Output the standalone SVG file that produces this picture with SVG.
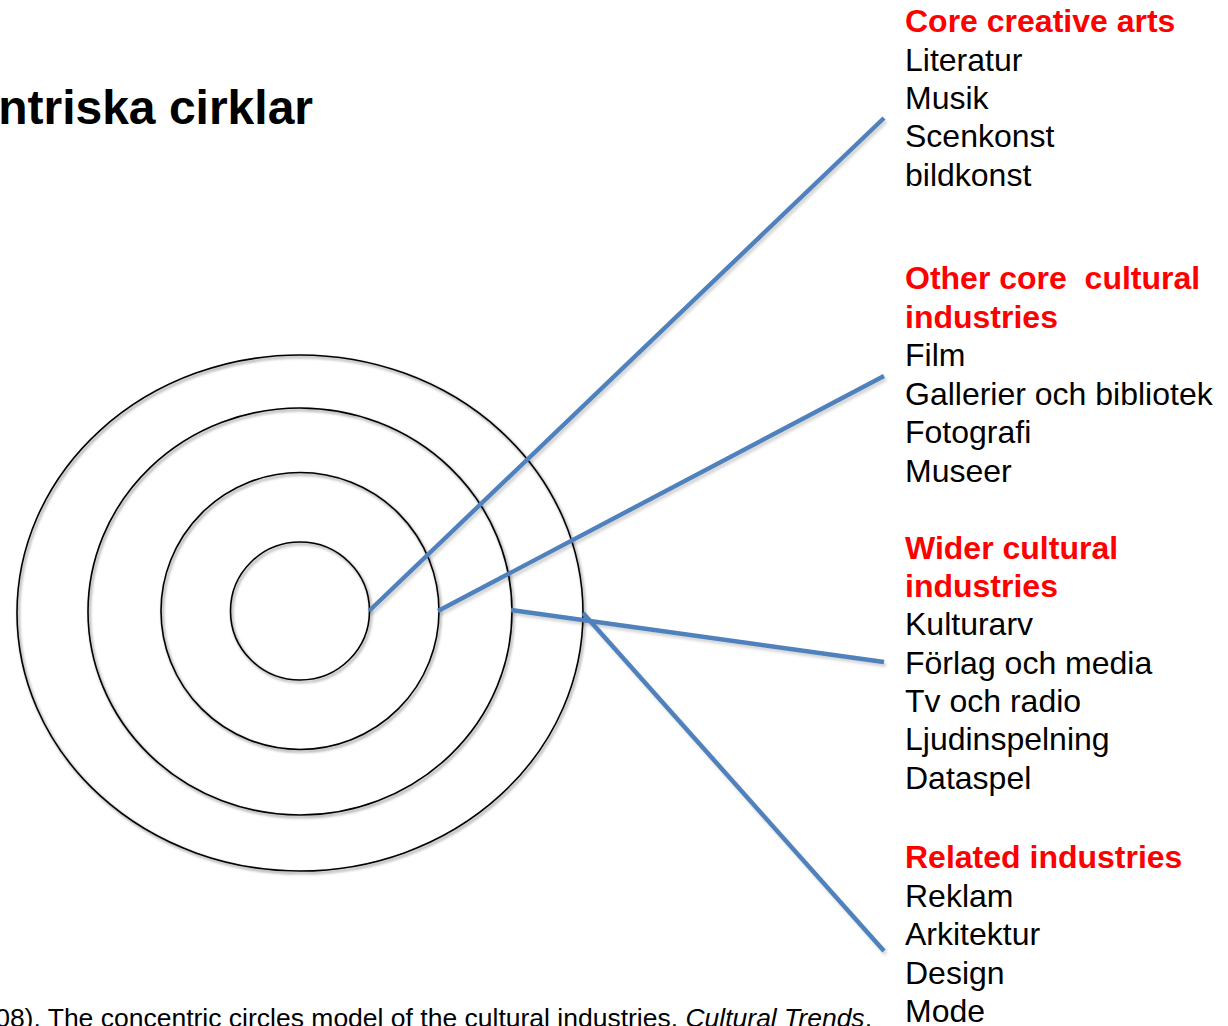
<svg xmlns="http://www.w3.org/2000/svg" width="1228" height="1026" viewBox="0 0 1228 1026">
<style>
  .ring { fill: none; stroke: #000; stroke-width: 1.6; }
  .conn { stroke: #4f81bd; stroke-width: 4.4; fill: none; stroke-linecap: butt; }
  .shadow { stroke: #000; stroke-opacity: 0.18; stroke-width: 4; fill: none; }
  .txt { font-family: "Liberation Sans", Arial, sans-serif; font-size: 32px; fill: #000; }
  .hd { font-family: "Liberation Sans", Arial, sans-serif; font-size: 32px; font-weight: bold; fill: #ff0000; white-space: pre; }
  .title { font-family: "Liberation Sans", Arial, sans-serif; font-size: 48px; font-weight: bold; fill: #000; }
  .cite { font-family: "Liberation Sans", Arial, sans-serif; font-size: 26.5px; fill: #000; }
</style>
<defs>
  <filter id="blur" x="-10%" y="-10%" width="120%" height="120%">
    <feGaussianBlur stdDeviation="1.5"/>
  </filter>
</defs>
<rect width="1228" height="1026" fill="#fff"/>

<g id="title">
  <text class="title" x="313" y="124" text-anchor="end">ntriska cirklar</text>
</g>

<g id="circles">
  <g filter="url(#blur)" opacity="0.5" transform="translate(1.5,2)">
    <ellipse class="ring" cx="300" cy="613" rx="283" ry="258"/>
    <ellipse class="ring" cx="300" cy="611.5" rx="212" ry="203.5"/>
    <ellipse class="ring" cx="300" cy="611" rx="139" ry="138.5"/>
    <ellipse class="ring" cx="300" cy="611" rx="69.5" ry="69"/>
  </g>
  <ellipse id="ring4" class="ring" cx="300" cy="613" rx="283" ry="258"/>
  <ellipse id="ring3" class="ring" cx="300" cy="611.5" rx="212" ry="203.5"/>
  <ellipse id="ring2" class="ring" cx="300" cy="611" rx="139" ry="138.5"/>
  <ellipse id="ring1" class="ring" cx="300" cy="611" rx="69.5" ry="69"/>
</g>

<g id="connectors">
  <g filter="url(#blur)" transform="translate(2,3)">
    <line class="shadow" x1="369" y1="611" x2="884" y2="118"/>
    <line class="shadow" x1="438" y1="611" x2="884" y2="376"/>
    <line class="shadow" x1="511" y1="610" x2="884" y2="662"/>
    <line class="shadow" x1="583" y1="613" x2="884" y2="951"/>
  </g>
  <line class="conn" x1="369" y1="611" x2="884" y2="118"/>
  <line class="conn" x1="438" y1="611" x2="884" y2="376"/>
  <line class="conn" x1="511" y1="610" x2="884" y2="662"/>
  <line class="conn" x1="583" y1="613" x2="884" y2="951"/>
</g>

<g id="core-creative-arts">
  <text class="hd" x="905" y="32">Core creative arts</text>
  <text class="txt" x="905" y="70.5">Literatur</text>
  <text class="txt" x="905" y="109">Musik</text>
  <text class="txt" x="905" y="147">Scenkonst</text>
  <text class="txt" x="905" y="186">bildkonst</text>
</g>

<g id="other-core-cultural-industries">
  <text class="hd" x="905" y="289" xml:space="preserve">Other core  cultural</text>
  <text class="hd" x="905" y="328">industries</text>
  <text class="txt" x="905" y="366">Film</text>
  <text class="txt" x="905" y="405">Gallerier och bibliotek</text>
  <text class="txt" x="905" y="443">Fotografi</text>
  <text class="txt" x="905" y="482">Museer</text>
</g>

<g id="wider-cultural-industries">
  <text class="hd" x="905" y="559">Wider cultural</text>
  <text class="hd" x="905" y="597">industries</text>
  <text class="txt" x="905" y="635">Kulturarv</text>
  <text class="txt" x="905" y="674">Förlag och media</text>
  <text class="txt" x="905" y="712">Tv och radio</text>
  <text class="txt" x="905" y="750">Ljudinspelning</text>
  <text class="txt" x="905" y="789">Dataspel</text>
</g>

<g id="related-industries">
  <text class="hd" x="905" y="868">Related industries</text>
  <text class="txt" x="905" y="907">Reklam</text>
  <text class="txt" x="905" y="945">Arkitektur</text>
  <text class="txt" x="905" y="984">Design</text>
  <text class="txt" x="905" y="1022">Mode</text>
</g>

<g id="citation">
  <text class="cite" x="872" y="1027" text-anchor="end">08). The concentric circles model of the cultural industries. <tspan font-style="italic">Cultural Trends</tspan>,</text>
</g>
</svg>
